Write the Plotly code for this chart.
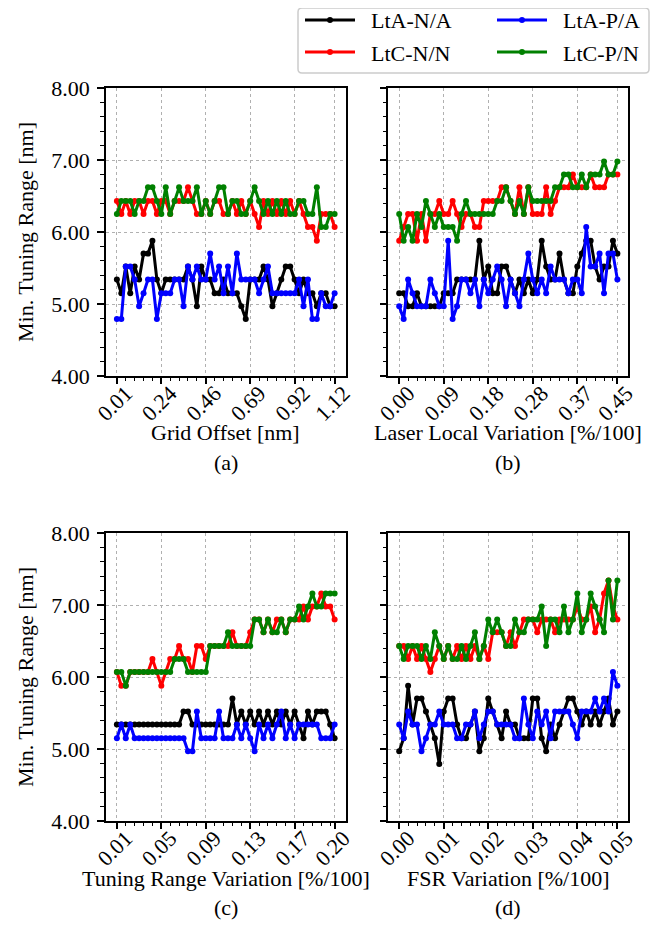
import numpy as np
import plotly.graph_objects as go

# ---------------- data ----------------
series_names = ["LtA-N/A", "LtC-N/N", "LtA-P/A", "LtC-P/N"]
series_colors = ["#000000", "#ff0000", "#0000ff", "#008000"]
legend_slot = [0, 2, 1, 3]   # row-major slot in the 2x2 legend

grid_offset = np.linspace(0.01, 1.12, 50)
laser_var = np.linspace(0.00, 0.45, 50)
tuning_var = np.linspace(0.01, 0.20, 50)
fsr_var = np.linspace(0.00, 0.05, 50)

ticklabels_a = ["0.01", "0.24", "0.46", "0.69", "0.92", "1.12"]
ticklabels_b = ["0.00", "0.09", "0.18", "0.28", "0.37", "0.45"]
ticklabels_c = ["0.01", "0.05", "0.09", "0.13", "0.17", "0.20"]
ticklabels_d = ["0.00", "0.01", "0.02", "0.03", "0.04", "0.05"]
tick_index = [0, 10, 20, 30, 40, 49]

y_ticks = [4.0, 5.0, 6.0, 7.0, 8.0]
y_ticklabels = ["4.00", "5.00", "6.00", "7.00", "8.00"]

# (a) Grid Offset
a_lta_na = [5.34, 5.15, 5.52, 5.15, 5.52, 5.34, 5.70, 5.70, 5.88, 5.34,
            5.15, 5.34, 5.34, 5.34, 5.34, 5.34, 5.52, 5.34, 4.97, 5.52,
            5.34, 5.34, 5.15, 5.15, 5.34, 5.15, 5.15, 5.15, 4.97, 4.79,
            5.34, 5.34, 5.34, 5.52, 5.34, 4.97, 5.15, 5.34, 5.52, 5.52,
            5.34, 5.15, 5.34, 5.15, 5.15, 4.97, 5.15, 5.15, 4.97, 4.97]
a_ltc_nn = [6.43, 6.25, 6.43, 6.25, 6.43, 6.43, 6.25, 6.43, 6.43, 6.25,
            6.43, 6.43, 6.25, 6.43, 6.43, 6.43, 6.62, 6.43, 6.25, 6.25,
            6.43, 6.25, 6.43, 6.43, 6.25, 6.25, 6.43, 6.25, 6.43, 6.25,
            6.43, 6.25, 6.07, 6.43, 6.25, 6.43, 6.25, 6.43, 6.25, 6.43,
            6.25, 6.43, 6.25, 6.07, 6.07, 5.88, 6.25, 6.25, 6.25, 6.07]
a_lta_pa = [4.79, 4.79, 5.52, 5.52, 5.34, 4.97, 5.15, 5.34, 5.34, 4.79,
            5.15, 5.15, 5.15, 5.34, 5.34, 4.97, 5.52, 5.34, 5.52, 5.34,
            5.34, 5.70, 5.34, 5.52, 5.15, 5.52, 5.15, 5.70, 5.34, 5.34,
            5.34, 5.34, 5.15, 5.34, 5.52, 5.15, 5.15, 5.15, 5.15, 5.15,
            5.15, 5.34, 4.97, 5.34, 4.79, 4.79, 5.15, 4.97, 4.97, 5.15]
a_ltc_pn = [6.25, 6.43, 6.43, 6.43, 6.25, 6.43, 6.43, 6.62, 6.62, 6.43,
            6.25, 6.62, 6.25, 6.43, 6.62, 6.43, 6.43, 6.43, 6.62, 6.25,
            6.43, 6.25, 6.43, 6.62, 6.62, 6.25, 6.43, 6.43, 6.25, 6.25,
            6.43, 6.62, 6.43, 6.25, 6.43, 6.25, 6.43, 6.25, 6.43, 6.25,
            6.25, 6.43, 6.43, 6.25, 6.25, 6.62, 6.07, 6.07, 6.25, 6.25]

# (b) Laser Local Variation
b_lta_na = [5.15, 5.15, 4.97, 4.97, 5.15, 4.97, 4.97, 4.97, 4.97, 4.97,
            5.15, 5.15, 5.15, 5.34, 5.34, 5.34, 5.34, 5.34, 5.88, 5.34,
            5.52, 5.15, 5.15, 5.52, 5.52, 5.34, 5.15, 5.34, 5.15, 5.34,
            5.15, 5.34, 5.88, 5.52, 5.34, 5.34, 5.70, 5.34, 5.15, 5.15,
            5.52, 5.70, 5.88, 5.88, 5.52, 5.34, 5.52, 5.52, 5.88, 5.70]
b_ltc_nn = [5.88, 6.07, 6.25, 6.25, 5.88, 6.25, 5.88, 6.25, 6.25, 6.43,
            6.25, 6.25, 6.43, 6.25, 6.07, 6.25, 6.25, 6.07, 6.07, 6.43,
            6.43, 6.43, 6.43, 6.62, 6.62, 6.43, 6.25, 6.62, 6.25, 6.62,
            6.25, 6.25, 6.25, 6.62, 6.25, 6.43, 6.62, 6.62, 6.62, 6.80,
            6.62, 6.62, 6.62, 6.80, 6.62, 6.62, 6.62, 6.80, 6.80, 6.80]
b_lta_pa = [4.97, 4.79, 5.34, 5.15, 4.97, 4.97, 4.97, 5.34, 5.15, 4.97,
            4.97, 5.88, 4.79, 4.97, 5.34, 5.34, 5.15, 5.34, 4.97, 5.34,
            5.15, 5.34, 5.52, 5.34, 4.97, 5.34, 5.15, 4.97, 5.34, 5.70,
            5.34, 5.15, 5.34, 5.15, 5.52, 5.34, 5.34, 5.34, 5.15, 5.34,
            5.34, 5.15, 6.07, 5.52, 5.52, 5.70, 5.15, 5.70, 5.70, 5.34]
b_ltc_pn = [6.25, 5.88, 6.07, 5.88, 6.25, 6.07, 6.43, 6.25, 6.07, 6.25,
            6.07, 6.07, 6.07, 5.88, 6.25, 6.43, 6.25, 6.25, 6.25, 6.25,
            6.25, 6.25, 6.43, 6.43, 6.62, 6.43, 6.25, 6.43, 6.25, 6.62,
            6.43, 6.43, 6.43, 6.43, 6.43, 6.62, 6.62, 6.80, 6.80, 6.62,
            6.62, 6.80, 6.62, 6.80, 6.80, 6.80, 6.98, 6.80, 6.80, 6.98]

# (c) Tuning Range Variation
c_lta_na = [5.34, 5.34, 5.34, 5.34, 5.34, 5.34, 5.34, 5.34, 5.34, 5.34,
            5.34, 5.34, 5.34, 5.34, 5.34, 5.52, 5.52, 5.34, 5.34, 5.34,
            5.34, 5.34, 5.34, 5.34, 5.34, 5.34, 5.70, 5.34, 5.52, 5.34,
            5.52, 5.34, 5.52, 5.34, 5.52, 5.34, 5.52, 5.34, 5.52, 5.34,
            5.52, 5.34, 5.15, 5.52, 5.34, 5.52, 5.52, 5.52, 5.34, 5.15]
c_ltc_nn = [6.07, 5.88, 5.88, 6.07, 6.07, 6.07, 6.07, 6.07, 6.25, 6.07,
            5.88, 6.07, 6.25, 6.25, 6.43, 6.25, 6.25, 6.07, 6.43, 6.43,
            6.25, 6.43, 6.43, 6.43, 6.43, 6.43, 6.62, 6.43, 6.43, 6.43,
            6.62, 6.80, 6.80, 6.62, 6.80, 6.62, 6.80, 6.80, 6.62, 6.80,
            6.80, 6.80, 6.98, 6.80, 6.98, 6.98, 7.16, 6.98, 6.98, 6.80]
c_lta_pa = [5.15, 5.34, 5.15, 5.34, 5.15, 5.15, 5.15, 5.15, 5.15, 5.15,
            5.15, 5.15, 5.15, 5.15, 5.15, 5.15, 4.97, 4.97, 5.52, 5.15,
            5.15, 5.15, 5.15, 5.52, 5.15, 5.15, 5.15, 5.34, 5.15, 5.34,
            5.15, 4.97, 5.34, 5.15, 5.34, 5.15, 5.34, 5.52, 5.15, 5.34,
            5.15, 5.34, 5.34, 5.34, 5.34, 5.34, 5.15, 5.15, 5.15, 5.34]
c_ltc_pn = [6.07, 6.07, 5.88, 6.07, 6.07, 6.07, 6.07, 6.07, 6.07, 6.07,
            6.07, 6.07, 6.07, 6.25, 6.25, 6.25, 6.07, 6.07, 6.07, 6.07,
            6.07, 6.43, 6.43, 6.43, 6.43, 6.62, 6.43, 6.43, 6.43, 6.43,
            6.43, 6.80, 6.80, 6.62, 6.80, 6.62, 6.62, 6.80, 6.62, 6.80,
            6.80, 6.98, 6.80, 6.98, 7.16, 6.98, 6.98, 7.16, 7.16, 7.16]

# (d) FSR Variation
d_lta_na = [4.97, 5.15, 5.88, 5.34, 5.70, 5.70, 5.52, 5.34, 5.15, 4.79,
            5.52, 5.70, 5.70, 5.34, 5.15, 5.15, 5.34, 5.52, 4.97, 5.15,
            5.70, 5.52, 5.34, 5.15, 5.52, 5.34, 5.34, 5.15, 5.15, 5.15,
            5.70, 5.70, 5.15, 4.97, 5.34, 5.15, 5.34, 5.52, 5.70, 5.70,
            5.52, 5.34, 5.52, 5.34, 5.52, 5.34, 5.52, 5.70, 5.34, 5.52]
d_ltc_nn = [6.43, 6.43, 6.25, 6.43, 6.25, 6.43, 6.25, 6.07, 6.25, 6.43,
            6.25, 6.43, 6.25, 6.43, 6.25, 6.43, 6.25, 6.43, 6.25, 6.43,
            6.25, 6.62, 6.62, 6.62, 6.43, 6.62, 6.43, 6.62, 6.80, 6.80,
            6.80, 6.62, 6.80, 6.80, 6.80, 6.62, 6.80, 6.80, 6.80, 6.80,
            6.98, 6.80, 6.80, 6.98, 6.62, 6.80, 7.16, 7.34, 6.98, 6.80]
d_lta_pa = [5.34, 5.15, 5.52, 5.34, 5.34, 4.97, 5.15, 5.34, 5.34, 5.52,
            5.34, 5.34, 5.34, 5.15, 5.15, 5.34, 5.34, 5.52, 5.15, 5.34,
            5.52, 5.52, 5.34, 5.34, 5.34, 5.34, 5.15, 5.15, 5.70, 5.34,
            5.15, 5.52, 5.34, 5.52, 5.15, 5.52, 5.52, 5.52, 5.52, 5.34,
            5.15, 5.52, 5.52, 5.52, 5.70, 5.52, 5.70, 5.52, 6.07, 5.88]
d_ltc_pn = [6.43, 6.25, 6.43, 6.43, 6.43, 6.25, 6.43, 6.25, 6.62, 6.43,
            6.25, 6.43, 6.25, 6.25, 6.43, 6.25, 6.43, 6.62, 6.25, 6.43,
            6.80, 6.62, 6.80, 6.62, 6.43, 6.43, 6.80, 6.62, 6.62, 6.80,
            6.80, 6.80, 6.98, 6.43, 6.80, 6.80, 6.62, 6.98, 6.62, 6.80,
            7.16, 6.62, 6.80, 7.16, 6.98, 6.80, 6.62, 7.34, 6.80, 7.34]

panels = [
    (grid_offset, [a_lta_na, a_ltc_nn, a_lta_pa, a_ltc_pn], ticklabels_a, "Grid Offset [nm]", "(a)"),
    (laser_var, [b_lta_na, b_ltc_nn, b_lta_pa, b_ltc_pn], ticklabels_b, "Laser Local Variation [%/100]", "(b)"),
    (tuning_var, [c_lta_na, c_ltc_nn, c_lta_pa, c_ltc_pn], ticklabels_c, "Tuning Range Variation [%/100]", "(c)"),
    (fsr_var, [d_lta_na, d_ltc_nn, d_lta_pa, d_ltc_pn], ticklabels_d, "FSR Variation [%/100]", "(d)"),
]

# ---------------- layout geometry (page pixels) ----------------
PAGE_W, PAGE_H = 670, 946
OFF = 8                      # default page body margin
W, H = PAGE_W - OFF, PAGE_H - OFF
col_px = [(106, 345.5), (388.3, 628.3)]
row_px = [(88, 376), (533, 821)]
FONT = "Liberation Serif"
FS = 22


def px(x):
    return (x - OFF) / W


def py(y):
    return 1 - (y - OFF) / H


fig = go.Figure()
layout_axes = {}
annotations = []
shapes = []

for p, (xv, ys, tlabels, xtitle, plabel) in enumerate(panels):
    r, c = divmod(p, 2)
    ax = "" if p == 0 else str(p + 1)
    xref, yref = "x" + ax, "y" + ax
    for k in range(4):
        fig.add_trace(go.Scatter(
            x=xv, y=ys[k], mode="lines+markers", name=series_names[k],
            line=dict(color=series_colors[k], width=3),
            marker=dict(color=series_colors[k], size=6),
            xaxis=xref, yaxis=yref, showlegend=False,
        ))
    x0, x1 = col_px[c]
    y0, y1 = row_px[r]
    span = xv[-1] - xv[0]
    tickvals = [xv[i] for i in tick_index]
    layout_axes["xaxis" + ax] = dict(
        domain=[px(x0), px(x1)], anchor=yref, automargin=False,
        range=[xv[0] - 0.05 * span, xv[-1] + 0.05 * span],
        tickmode="array", tickvals=tickvals, ticktext=tlabels, tickangle=-45,
        ticks="outside", ticklen=6, tickwidth=1.5, tickcolor="black",
        ticklabelshift=9, ticklabelstandoff=-12,
        showline=True, linecolor="black", linewidth=1.5, mirror=True,
        showgrid=True, gridcolor="#b0b0b0", griddash="dot", gridwidth=1,
        zeroline=False,
        minor=dict(tickmode="array", tickvals=list(xv[::2]), ticks="outside",
                   ticklen=3.5, tickwidth=1, tickcolor="black", showgrid=False),
        tickfont=dict(family=FONT, size=FS, color="black"),
    )
    layout_axes["yaxis" + ax] = dict(
        domain=[py(y1), py(y0)], anchor=xref, automargin=False,
        range=[4, 8], tickmode="array", tickvals=y_ticks,
        ticktext=y_ticklabels if c == 0 else [""] * len(y_ticks),
        ticks="outside", ticklen=7, tickwidth=1.5, tickcolor="black",
        showline=True, linecolor="black", linewidth=1.5, mirror=True,
        showgrid=True, gridcolor="#b0b0b0", griddash="dot", gridwidth=1,
        zeroline=False,
        minor=dict(dtick=0.2, tick0=4, ticks="outside", ticklen=4,
                   tickwidth=1, tickcolor="black", showgrid=False),
        tickfont=dict(family=FONT, size=FS, color="black"),
        ticklabelstandoff=3,
    )
    cx = px((x0 + x1) / 2)
    ty = 433 if r == 0 else 878
    annotations.append(dict(text=xtitle, x=cx, y=py(ty), xref="paper", yref="paper",
                            xanchor="center", yanchor="middle", showarrow=False,
                            font=dict(family=FONT, size=FS, color="black")))
    annotations.append(dict(text=plabel, x=cx, y=py(ty + 29), xref="paper", yref="paper",
                            xanchor="center", yanchor="middle", showarrow=False,
                            font=dict(family=FONT, size=FS, color="black")))
    if c == 0:
        annotations.append(dict(text="Min. Tuning Range [nm]", x=px(25),
                                y=py((y0 + y1) / 2), xref="paper", yref="paper",
                                xanchor="center", yanchor="middle", textangle=-90,
                                showarrow=False,
                                font=dict(family=FONT, size=FS, color="black")))

# ---------------- legend (2 columns, drawn as shapes + text) ----------------
lg_x0, lg_x1, lg_y0, lg_y1 = 298, 649, 3, 73
lg_y0 = max(lg_y0, OFF)
rad = 4
shapes.append(dict(
    type="path", xref="paper", yref="paper",
    path=(f"M {px(lg_x0 + rad)} {py(lg_y0)} L {px(lg_x1 - rad)} {py(lg_y0)} "
          f"Q {px(lg_x1)} {py(lg_y0)} {px(lg_x1)} {py(lg_y0 + rad)} "
          f"L {px(lg_x1)} {py(lg_y1 - rad)} Q {px(lg_x1)} {py(lg_y1)} {px(lg_x1 - rad)} {py(lg_y1)} "
          f"L {px(lg_x0 + rad)} {py(lg_y1)} Q {px(lg_x0)} {py(lg_y1)} {px(lg_x0)} {py(lg_y1 - rad)} "
          f"L {px(lg_x0)} {py(lg_y0 + rad)} Q {px(lg_x0)} {py(lg_y0)} {px(lg_x0 + rad)} {py(lg_y0)} Z"),
    line=dict(color="#cccccc", width=1.5), fillcolor="rgba(255,255,255,0.8)", layer="above",
))
col_line_x = [305, 497]
row_y = [20, 52]
for k in range(4):
    slot = legend_slot[k]
    rr, cc = divmod(slot, 2)
    lx0 = col_line_x[cc]
    ly = row_y[rr]
    shapes.append(dict(type="line", xref="paper", yref="paper",
                       x0=px(lx0), x1=px(lx0 + 50), y0=py(ly), y1=py(ly),
                       line=dict(color=series_colors[k], width=3), layer="above"))
    shapes.append(dict(type="circle", xref="paper", yref="paper",
                       x0=px(lx0 + 25 - 3), x1=px(lx0 + 25 + 3),
                       y0=py(ly - 3), y1=py(ly + 3),
                       line=dict(color=series_colors[k], width=0),
                       fillcolor=series_colors[k], layer="above"))
    annotations.append(dict(text=series_names[k], x=px(lx0 + 64), y=py(ly + 1),
                            xref="paper", yref="paper", xanchor="left", yanchor="middle",
                            showarrow=False,
                            font=dict(family=FONT, size=FS, color="black")))

fig.update_layout(
    width=W, height=H,
    margin=dict(l=0, r=0, t=0, b=0, autoexpand=False),
    paper_bgcolor="white", plot_bgcolor="white",
    font=dict(family=FONT, size=FS, color="black"),
    showlegend=False,
    annotations=annotations,
    shapes=shapes,
    **layout_axes,
)

fig.write_html("out.html")
